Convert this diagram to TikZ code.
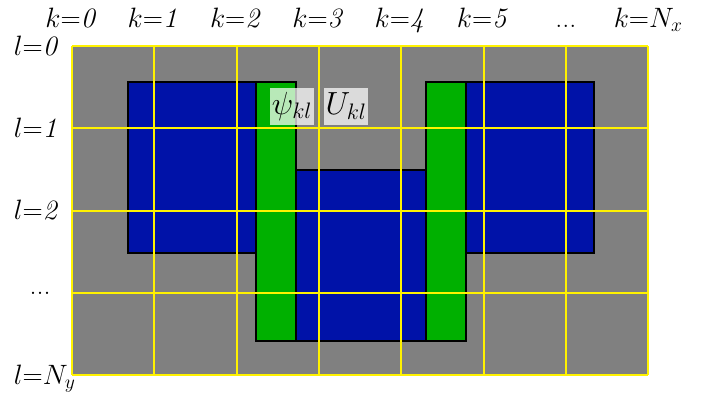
\RequirePackage{fix-cm}
\documentclass[tikz,border=0pt]{standalone}
\usepackage{amsmath}

\definecolor{cellgray}{RGB}{128,128,128}
\definecolor{wellblue}{RGB}{0,18,168}
\definecolor{gategreen}{RGB}{0,176,0}

\begin{document}
\begin{tikzpicture}[
    x=1pt, y=-1pt,
    font=\fontsize{28}{32}\selectfont,
    line width=1.8pt,
    gridline/.style={yellow, line width=2pt},
    blueblock/.style={draw=black, fill=wellblue},
    greenbar/.style={draw=black, fill=gategreen},
    axislabel/.style={inner sep=0pt},
    tag/.style={fill=white, fill opacity=0.72, text opacity=1, inner sep=2pt,
        minimum height=37pt, font=\fontsize{32}{36}\selectfont}
]
\useasboundingbox (0,0) rectangle (712,399);

% gray domain
\fill[cellgray] (72,46) rectangle (648,375.2);

% device blocks
\draw[blueblock] (128,82) rectangle (256,253);
\draw[blueblock] (466,82) rectangle (594,253);
\draw[blueblock] (296,170) rectangle (426,341);
\draw[greenbar] (256,82) rectangle (296,341);
\draw[greenbar] (426,82) rectangle (466,341);

% mesh
\foreach \i in {0,...,7}
    \draw[gridline] ({72+82.3*\i},46) -- ({72+82.3*\i},375.2);
\foreach \j in {0,...,4}
    \draw[gridline] (72,{46+82.3*\j}) -- (648,{46+82.3*\j});

% indices
\foreach \i/\txt in {0/$k{=}\mathit{0}$, 1/$k{=}\mathit{1}$, 2/$k{=}\mathit{2}$, 3/$k{=}\mathit{3}$,
                     4/$k{=}\mathit{4}$, 5/$k{=}\mathit{5}$, 6/{.{}.{}.}, 7/$k{=}N_x$}
    \node[axislabel, anchor=base] (k\i) at ({72+82.3*\i},27) {\txt};
\foreach \j/\txt in {0/$l{=}\mathit{0}$, 1/$l{=}\mathit{1}$, 2/$l{=}\mathit{2}$, 4/$l{=}N_y$}
    \node[axislabel, anchor=base west] (l\j) at (13,{55+82.3*\j}) {\txt};
\node[axislabel] (l3) at (40,293) {.{}.{}.};

% field tags
\node[tag] (psi) at (292,106) {$\psi_{kl}$};
\node[tag] (ukl) at (346,106) {$U_{kl}$};
\end{tikzpicture}
\end{document}
